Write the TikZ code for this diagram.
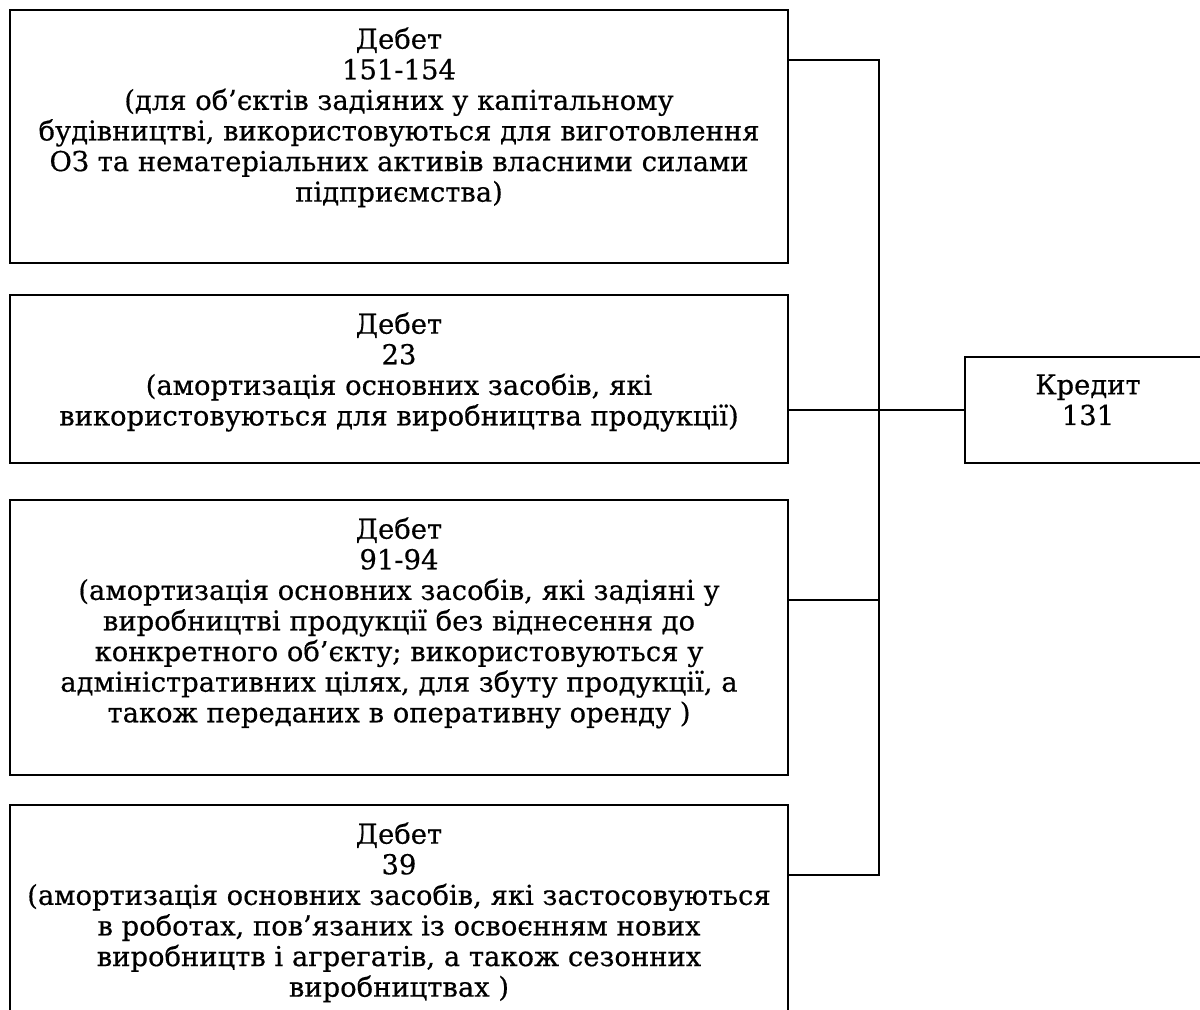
\documentclass[tikz,border=0pt]{standalone}
\usepackage{fontspec}
\setmainfont{DejaVu Serif}[BoldFont=DejaVu Serif, BoldFeatures={FakeBold=0.5}]
\usetikzlibrary{positioning}

\tikzset{
  rahunok/.style={draw, line width=1pt, inner sep=0pt},
  napys/.style={align=center, inner sep=0pt, anchor=north,
    font=\fontsize{13.7}{15.3}\selectfont\bfseries},
  zvyazok/.style={line width=1pt}
}

\begin{document}
\begin{tikzpicture}[x=0.5pt, y=-0.5pt]
        \useasboundingbox (0,0) rectangle (1200,1010);

        % Debit accounts
        \node[rahunok, minimum width=389pt, minimum height=126.5pt] (deb1) at (399,136.5) {};
        \node[rahunok, minimum width=389pt, minimum height=84pt] (deb2) at (399,379) {};
        \node[rahunok, minimum width=389pt, minimum height=137.5pt] (deb3) at (399,637.5) {};
        \node[rahunok, minimum width=389pt, minimum height=117.5pt] (deb4) at (399,922.5) {};

        % Texts in the boxes
        \node[napys, below=9pt of deb1.north] (tekst1) {Дебет\\151-154\\(для об’єктів задіяних у капітальному\\будівництві, використовуються для виготовлення\\ОЗ та нематеріальних активів власними силами\\підприємства)};
        \node[napys, below=9pt of deb2.north] (tekst2) {Дебет\\23\\(амортизація основних засобів, які\\використовуються для виробництва продукції)};
        \node[napys, below=9pt of deb3.north] (tekst3) {Дебет\\91-94\\(амортизація основних засобів, які задіяні у\\виробництві продукції без віднесення до\\конкретного об’єкту; використовуються у\\адміністративних цілях, для збуту продукції, а\\також переданих в оперативну оренду )};
        \node[napys, below=9pt of deb4.north] (tekst4) {Дебет\\39\\(амортизація основних засобів, які застосовуються\\в роботах, пов’язаних із освоєнням нових\\виробництв і агрегатів, а також сезонних\\виробництвах )};

        % Credit account
        \node[rahunok, minimum width=123pt, minimum height=53pt] (kred) at (1088,410) {};
        \node[napys, below=9pt of kred.north] (tekst5) {Кредит\\131};

        % Connectors
        \coordinate (v1) at (879,60);
        \coordinate (v3) at (879,600);
        \coordinate (v4) at (879,875);
        \draw[zvyazok] (deb1.east |- v1) -- (v1) -- (v4) -- (deb4.east |- v4);
        \draw[zvyazok] (deb2.east |- kred.west) -- (kred.west);
        \draw[zvyazok] (deb3.east |- v3) -- (v3);

\end{tikzpicture}
\end{document}
